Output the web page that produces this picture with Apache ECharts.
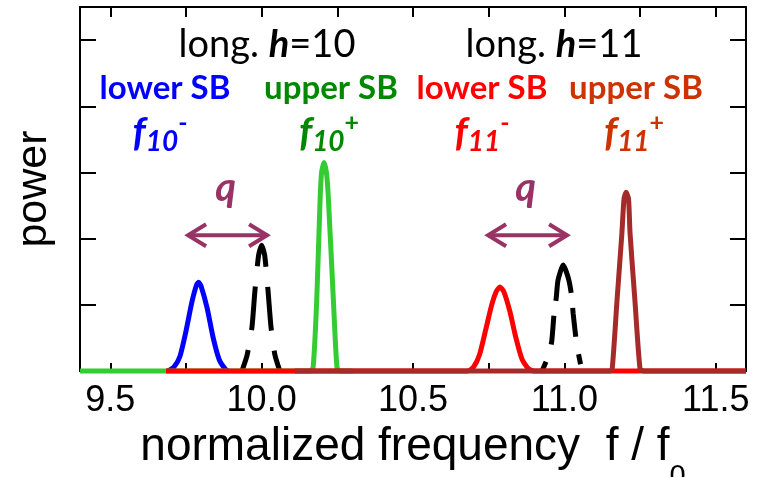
<!DOCTYPE html>
<html>
<head>
<meta charset="utf-8">
<script src="https://cdn.jsdelivr.net/npm/echarts@6/dist/echarts.min.js"></script>
<style>
  html, body { margin: 0; padding: 0; background: #ffffff; }
  #chart { width: 763px; height: 477px; }
</style>
</head>
<body>
<div id="chart"></div>
<script>
// Normalized frequency f/f0 and relative power of each spectral line.
// Carrier lines (dashed) at the longitudinal harmonics h = 10 and h = 11.
const carrier10X = [9.935, 9.952, 9.968, 9.978, 9.990, 10.000, 10.010, 10.021, 10.031, 10.044, 10.060];
const carrier10Y = [0.00, 0.24, 0.66, 1.22, 1.75, 1.90, 1.75, 1.22, 0.66, 0.24, 0.00];
const carrier11X = [10.926, 10.945, 10.958, 10.966, 10.973, 10.979, 10.996, 11.015, 11.025, 11.029, 11.041, 11.058];
const carrier11Y = [0.00, 0.20, 0.44, 0.87, 1.10, 1.37, 1.60, 1.37, 1.10, 0.87, 0.40, 0.00];

// Lower sideband f10-
const lower10X = [9.690, 9.710, 9.730, 9.750, 9.770, 9.785, 9.792, 9.800, 9.820, 9.840, 9.860, 9.880, 9.890];
const lower10Y = [0.00, 0.06, 0.22, 0.60, 1.05, 1.30, 1.34, 1.28, 0.95, 0.50, 0.17, 0.03, 0.00];

// Upper sideband f10+
const upper10X = [9.400, 10.160, 10.170, 10.182, 10.193, 10.198, 10.206, 10.214, 10.220, 10.237, 10.249, 10.260, 10.300];
const upper10Y = [0.00, 0.00, 0.05, 1.07, 2.58, 3.00, 3.15, 3.00, 2.65, 1.07, 0.05, 0.00, 0.00];

// Lower sideband f11-
const lower11X = [9.684, 10.680, 10.700, 10.720, 10.740, 10.760, 10.775, 10.787, 10.800, 10.820, 10.840, 10.860, 10.880, 10.900, 11.600];
const lower11Y = [0.00, 0.00, 0.06, 0.25, 0.62, 1.00, 1.20, 1.27, 1.20, 0.90, 0.50, 0.18, 0.04, 0.00, 0.00];

// Upper sideband f11+
const upper11X = [10.110, 11.150, 11.158, 11.174, 11.190, 11.197, 11.204, 11.212, 11.217, 11.233, 11.250, 11.262, 11.600];
const upper11Y = [0.00, 0.00, 0.03, 1.07, 2.08, 2.60, 2.70, 2.60, 2.08, 1.07, 0.03, 0.00, 0.00];

// Axis ticks and labels
const xTickValues = [9.5, 9.75, 10.0, 10.25, 10.5, 10.75, 11.0, 11.25, 11.5];
const xLabelValues = [9.5, 10.0, 10.5, 11.0, 11.5];
const yTickValues = [1, 2, 3, 4, 5];

// Synchrotron frequency spacing q: arrow from lower sideband to carrier
const qArrowsFrom = [9.757, 10.748];
const qArrowsTo = [10.018, 11.009];
const qArrowLevel = 2.05;

const SANS = '"Liberation Sans", Arial, sans-serif';
const HUMAN = 'Lato, "Open Sans", sans-serif';
const PURPLE = '#993366';

function pairs(xs, ys) {
  return xs.map((x, i) => [x, ys[i]]);
}

const chart = echarts.init(document.getElementById('chart'), null, { renderer: 'canvas' });

function lineSeries(name, xs, ys, color, extra) {
  return Object.assign({
    name: name,
    type: 'line',
    data: pairs(xs, ys),
    showSymbol: false,
    symbol: 'none',
    smooth: 0.2,
    clip: false,
    silent: true,
    animation: false,
    lineStyle: { color: color, width: 5, cap: 'butt', join: 'round' }
  }, extra || {});
}

const axisCommonX = {
  type: 'value',
  min: 9.4,
  max: 11.6,
  splitLine: { show: false },
  axisLine: { show: true, onZero: false, lineStyle: { color: '#000', width: 2 } }
};
const axisCommonY = {
  type: 'value',
  min: 0,
  max: 5.5,
  splitLine: { show: false },
  axisLabel: { show: false },
  axisLine: { show: true, onZero: false, lineStyle: { color: '#000', width: 2 } }
};

// Label helpers: f with subscript harmonic and superscript sign
function fLabel(x, y, h, sign, color) {
  return {
    type: 'text', x: x, y: y, z: 100,
    style: {
      text: '{f|f}{s|' + h + '}{p|' + sign + '}',
      align: 'center', verticalAlign: 'middle',
      rich: {
        f: { fontSize: 40, fontWeight: 'bold', fontStyle: 'italic', fontFamily: HUMAN, fill: color, lineHeight: 46, verticalAlign: 'middle' },
        s: { fontSize: 28, fontWeight: 'bold', fontStyle: 'italic', fontFamily: HUMAN, fill: color, lineHeight: 28, verticalAlign: 'bottom' },
        p: { fontSize: 25, fontWeight: 'bold', fontFamily: HUMAN, fill: color, lineHeight: 34, verticalAlign: 'top' }
      }
    }
  };
}
function plainLabel(x, y, text, color, size, bold) {
  return {
    type: 'text', x: x, y: y, z: 100,
    style: {
      text: text, fill: color, align: 'center', verticalAlign: 'middle',
      fontSize: size, fontFamily: HUMAN, fontWeight: bold ? 'bold' : 'normal'
    }
  };
}
function harmonicLabel(x, y, h) {
  return {
    type: 'text', x: x, y: y, z: 100,
    style: {
      text: '{n|long. }{h|h}{n|=' + h + '}',
      align: 'center', verticalAlign: 'middle',
      rich: {
        n: { fontSize: 38, fontFamily: HUMAN, fill: '#000' },
        h: { fontSize: 38, fontFamily: HUMAN, fontWeight: 'bold', fontStyle: 'italic', fill: '#000' }
      }
    }
  };
}

chart.setOption({
  backgroundColor: '#ffffff',
  animation: false,
  grid: { left: 80, right: 17, top: 7, bottom: 106, outerBoundsMode: 'none', containLabel: false },
  xAxis: [
    Object.assign({}, axisCommonX, {
      position: 'bottom',
      axisTick: { show: true, inside: true, length: 8, customValues: xTickValues, lineStyle: { color: '#000', width: 2 } },
      axisLabel: {
        show: true, customValues: xLabelValues, margin: 12,
        formatter: v => Number(v).toFixed(1),
        fontSize: 36, fontFamily: SANS, color: '#000'
      },
      name: '{m|normalized frequency  f / f}{s|0}',
      nameLocation: 'middle',
      nameGap: 32,
      nameMoveOverlap: false,
      nameTextStyle: {
        fontSize: 46, fontFamily: SANS, color: '#000',
        rich: {
          m: { fontSize: 46, fontFamily: SANS, color: '#000', lineHeight: 88, verticalAlign: 'middle' },
          s: { fontSize: 29, fontFamily: SANS, color: '#000', lineHeight: 28, verticalAlign: 'bottom' }
        }
      }
    }),
    Object.assign({}, axisCommonX, {
      position: 'top',
      axisTick: { show: true, inside: true, length: 10, customValues: xTickValues, lineStyle: { color: '#000', width: 2 } },
      axisLabel: { show: false }
    })
  ],
  yAxis: [
    Object.assign({}, axisCommonY, {
      position: 'left',
      axisTick: { show: true, inside: true, length: 16, customValues: yTickValues, lineStyle: { color: '#000', width: 2 } },
      name: 'power',
      nameLocation: 'middle',
      nameGap: 24,
      nameMoveOverlap: false,
      nameTextStyle: { fontSize: 43, fontFamily: SANS, color: '#000' }
    }),
    Object.assign({}, axisCommonY, {
      position: 'right',
      axisTick: { show: true, inside: true, length: 16, customValues: yTickValues, lineStyle: { color: '#000', width: 2 } }
    })
  ],
  series: [
    lineSeries('carrier h=10', carrier10X, carrier10Y, '#000000', {
      lineStyle: { color: '#000', width: 5, type: [44, 20], dashOffset: 22, cap: 'butt' }
    }),
    lineSeries('carrier h=11', carrier11X, carrier11Y, '#000000', {
      lineStyle: { color: '#000', width: 5, type: [10, 18, 29, 15, 66, 15, 29, 18, 10, 60], cap: 'butt' }
    }),
    lineSeries('lower SB h=10', lower10X, lower10Y, '#0000ff'),
    lineSeries('upper SB h=10', upper10X, upper10Y, '#33cc33'),
    lineSeries('lower SB h=11', lower11X, lower11Y, '#ff0000'),
    lineSeries('upper SB h=11', upper11X, upper11Y, '#a52a2a')
  ]
});

// Annotations: harmonic titles, sideband names, f labels and q spacing arrows
const toPx = (x, y) => chart.convertToPixel({ xAxisIndex: 0, yAxisIndex: 0 }, [x, y]);
const graphics = [
  harmonicLabel(267, 45, 10),
  harmonicLabel(554, 45, 11),
  plainLabel(165, 88, 'lower SB', '#0000ff', 33, true),
  plainLabel(331, 88, 'upper SB', '#008800', 33, true),
  plainLabel(482, 88, 'lower SB', '#ff0000', 33, true),
  plainLabel(636, 88, 'upper SB', '#cc3300', 33, true),
  fLabel(160, 133, 10, '-', '#0000ff'),
  fLabel(329, 133, 10, '+', '#008800'),
  fLabel(482, 133, 11, '-', '#ff0000'),
  fLabel(634, 133, 11, '+', '#cc3300')
];
qArrowsFrom.forEach((x0, i) => {
  const a = toPx(x0, qArrowLevel);
  const b = toPx(qArrowsTo[i], qArrowLevel);
  const head = 18, spread = 11;
  const st = { stroke: PURPLE, lineWidth: 4, fill: null, lineCap: 'butt', lineJoin: 'miter' };
  graphics.push({ type: 'polyline', z: 90, shape: { points: [a, b] }, style: st });
  graphics.push({ type: 'polyline', z: 90, shape: { points: [[a[0] + head, a[1] - spread], a, [a[0] + head, a[1] + spread]] }, style: st });
  graphics.push({ type: 'polyline', z: 90, shape: { points: [[b[0] - head, b[1] - spread], b, [b[0] - head, b[1] + spread]] }, style: st });
  graphics.push({
    type: 'text', z: 100, x: (a[0] + b[0]) / 2 - 2, y: a[1] - 47,
    style: { text: 'q', fill: PURPLE, fontSize: 40, fontWeight: 'bold', fontStyle: 'italic', fontFamily: HUMAN, align: 'center', verticalAlign: 'middle' }
  });
});
chart.setOption({ graphic: graphics });
</script>
</body>
</html>
